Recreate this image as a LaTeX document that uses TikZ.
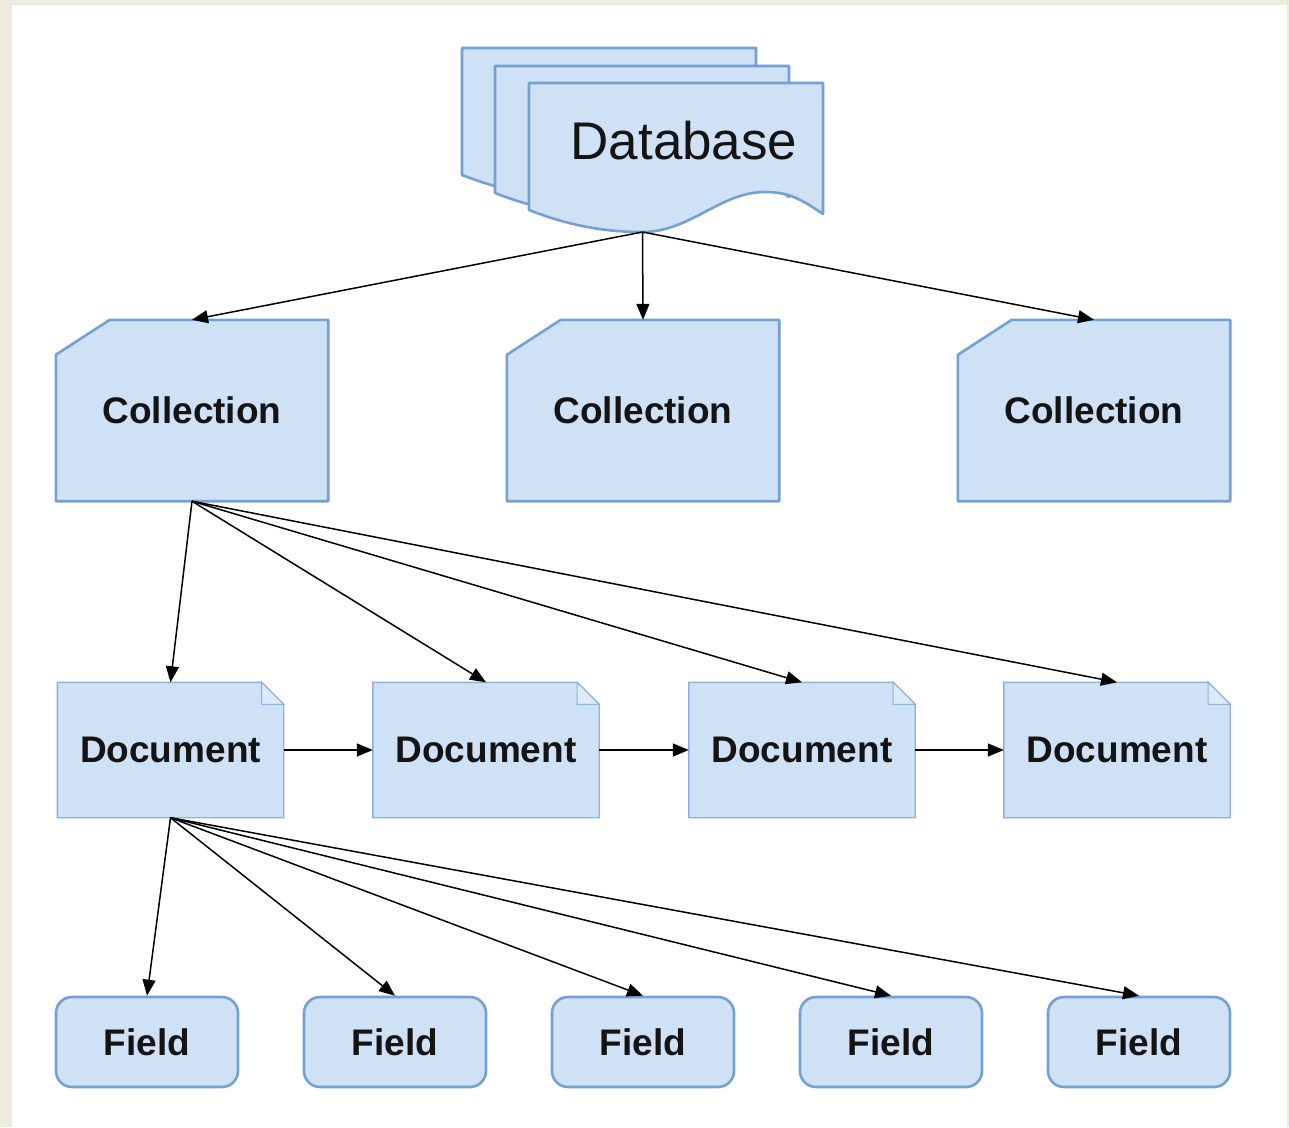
\documentclass[tikz,border=0pt]{standalone}
\usepackage{fontspec}
\setmainfont{Liberation Sans}
\usetikzlibrary{arrows.meta}
\pgfdeclarelayer{panel}
\pgfdeclarelayer{bg}
\pgfsetlayers{panel,bg,main}
\definecolor{boxfill}{RGB}{206,225,245}
\definecolor{foldfill}{RGB}{220,234,249}
\definecolor{boxline}{RGB}{116,160,211}
\definecolor{docline}{RGB}{140,178,222}
\definecolor{paper}{RGB}{237,235,221}
\definecolor{ink}{RGB}{20,20,20}
\begin{document}
\begin{tikzpicture}[x=1pt,y=-1pt,
  lbl/.style={inner sep=0pt, text=ink, font=\fontsize{37}{44}\selectfont\bfseries},
  collbox/.style={lbl, minimum width=272pt, minimum height=181pt},
  docbox/.style={lbl, minimum width=226pt, minimum height=135pt},
  fieldbox/.style={lbl, minimum width=182pt, minimum height=90pt, fill=boxfill, draw=boxline, line width=2.6pt, rounded corners=16pt},
  shapeA/.style={fill=boxfill, draw=boxline, line width=2.6pt, line join=round},
  shapeD/.style={fill=boxfill, draw=docline, line width=1.4pt},
  conn/.style={draw=black, line width=1.5pt, -{Triangle[length=16pt,width=13pt]}},
]
\path[use as bounding box] (0,0) rectangle (1289,1127);
\begin{pgfonlayer}{panel}
  \fill[paper] (0,0) rectangle (1289,1127);
  \fill[white] (12,5) rectangle (1287,1127);
\end{pgfonlayer}

% Database stack
\begin{pgfonlayer}{bg}
\foreach \dx/\dy in {-67/-35,-34/-17,0/0}{
  \draw[shapeA, shift={(\dx,\dy)}] (529,83) -- (823,83) -- (823,214)
    .. controls (802,200) and (790,192) .. (765,192)
    .. controls (720,192) and (690,232) .. (642.5,232)
    .. controls (600,232) and (565,224) .. (529,210) -- cycle;
}
\end{pgfonlayer}
\node[lbl, font=\fontsize{53}{62}\selectfont] (db) at (684,141) {Database};
\coordinate (dbb) at (642.5,232);

% Collections
\node[collbox] (c1) at (192,410.5) {Collection};
\node[collbox] (c2) at (643,410.5) {Collection};
\node[collbox] (c3) at (1094,410.5) {Collection};
\begin{pgfonlayer}{bg}
\foreach \n in {c1,c2,c3}{
  \draw[shapeA] ([yshift=-35pt]\n.north west) -- ([xshift=54pt]\n.north west)
    -- (\n.north east) -- (\n.south east) -- (\n.south west) -- cycle;
}
\end{pgfonlayer}

% Documents
\node[docbox] (d1) at (170.5,750) {Document};
\node[docbox] (d2) at (486,750) {Document};
\node[docbox] (d3) at (802,750) {Document};
\node[docbox] (d4) at (1117,750) {Document};
\begin{pgfonlayer}{bg}
\foreach \n in {d1,d2,d3,d4}{
  \draw[shapeD] (\n.north west) -- ([xshift=-22pt]\n.north east)
    -- ([yshift=-22pt]\n.north east) -- (\n.south east) -- (\n.south west) -- cycle;
  \draw[docline, line width=1pt, fill=foldfill] ([xshift=-22pt]\n.north east)
    -- ([xshift=-22pt,yshift=-22pt]\n.north east) -- ([yshift=-22pt]\n.north east) -- cycle;
}
\end{pgfonlayer}

% Fields
\node[fieldbox] (f1) at (147,1042) {Field};
\node[fieldbox] (f2) at (395,1042) {Field};
\node[fieldbox] (f3) at (643,1042) {Field};
\node[fieldbox] (f4) at (891,1042) {Field};
\node[fieldbox] (f5) at (1139,1042) {Field};

% Connectors
\draw[conn] (dbb) -- (c1.north);
\draw[conn] (dbb) -- (c2.north);
\draw[conn] (dbb) -- (c3.north);
\foreach \t in {d1,d2,d3,d4}{ \draw[conn] (c1.south) -- (\t.north); }
\draw[conn] (d1.east) -- (d2.west);
\draw[conn] (d2.east) -- (d3.west);
\draw[conn] (d3.east) -- (d4.west);
\foreach \t in {f1,f2,f3,f4,f5}{ \draw[conn] (d1.south) -- (\t.north); }
\end{tikzpicture}
\end{document}
